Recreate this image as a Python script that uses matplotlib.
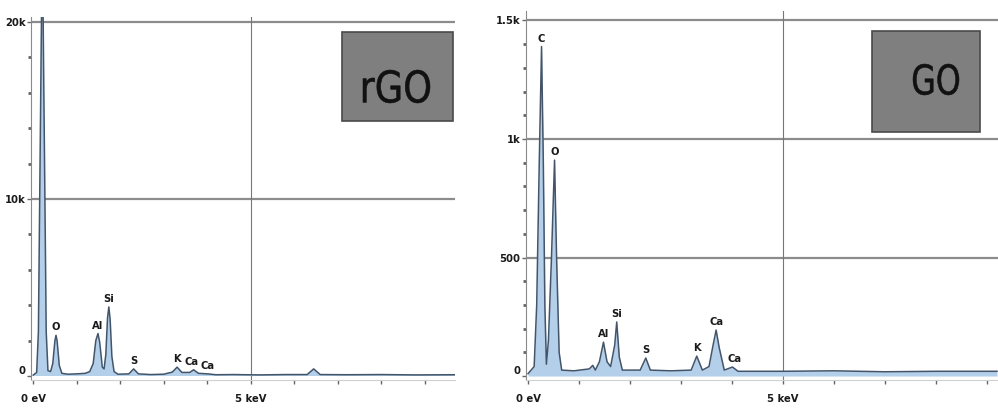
import numpy as np
import matplotlib.pyplot as plt
import matplotlib.transforms as mtransforms
from matplotlib.patches import Rectangle, PathPatch
from matplotlib.textpath import TextPath
from matplotlib.font_manager import FontProperties
from matplotlib.ticker import MultipleLocator, FixedLocator

plt.rcParams['font.family'] = ['DejaVu Sans']

# rGO spectrum, energy (keV) vs counts
rgo_kev = [0.00, 0.08, 0.12, 0.17, 0.21, 0.25, 0.30, 0.34, 0.40, 0.45, 0.50, 0.525, 0.55,
           0.60, 0.66, 0.80, 1.00, 1.20, 1.30, 1.38, 1.44, 1.49, 1.53, 1.59, 1.63, 1.67,
           1.71, 1.74, 1.77, 1.81, 1.86, 1.95, 2.20, 2.31, 2.42, 2.70, 3.00, 3.20, 3.31,
           3.42, 3.60, 3.69, 3.80, 4.01, 4.20, 4.60, 5.20, 5.80, 6.30, 6.45, 6.60, 7.20,
           8.00, 8.80, 9.70]
rgo_cts = [50, 200, 2500, 15000, 25000, 15000, 2500, 300, 250, 700, 2000, 2300, 2000,
           600, 150, 100, 120, 150, 250, 700, 2000, 2400, 1900, 500, 400, 1200,
           3300, 3900, 3200, 1100, 250, 100, 120, 400, 120, 80, 100, 220, 500,
           200, 200, 350, 150, 120, 70, 80, 60, 80, 80, 400, 80, 70,
           80, 60, 70]

# GO spectrum
go_kev = [0.00, 0.12, 0.17, 0.22, 0.265, 0.30, 0.33, 0.36, 0.40, 0.46, 0.52, 0.56, 0.61,
          0.66, 0.90, 1.20, 1.27, 1.32, 1.40, 1.48, 1.55, 1.62, 1.70, 1.74, 1.79, 1.85,
          2.20, 2.31, 2.40, 2.80, 3.20, 3.31, 3.42, 3.55, 3.63, 3.69, 3.75, 3.85, 4.01,
          4.12, 5.00, 6.00, 7.00, 8.00, 9.20]
go_cts = [10, 40, 300, 900, 1390, 900, 300, 50, 150, 500, 911, 500, 100,
          25, 22, 30, 45, 25, 60, 143, 60, 40, 130, 228, 80, 25,
          25, 76, 25, 22, 25, 84, 25, 40, 130, 194, 120, 25, 38,
          20, 20, 22, 18, 20, 20]

# element labels
rgo_el = ['O', 'Al', 'Si', 'S', 'K', 'Ca', 'Ca']
rgo_el_kev = [0.525, 1.49, 1.74, 2.31, 3.31, 3.64, 4.01]
rgo_el_cts = [2300, 2400, 3900, 400, 500, 350, 120]

go_el = ['C', 'O', 'Al', 'Si', 'S', 'K', 'Ca', 'Ca']
go_el_kev = [0.265, 0.52, 1.48, 1.74, 2.31, 3.31, 3.69, 4.05]
go_el_cts = [1390, 911, 143, 228, 76, 84, 194, 38]

rgo_yticks = [0, 10000, 20000]
rgo_ylabels = ['0', '10k', '20k']
go_yticks = [0, 500, 1000, 1500]
go_ylabels = ['0', '500', '1k', '1.5k']
xticks = [0, 5]
xlabels = ['0 eV', '5 keV']

W, H = 998, 408
fig = plt.figure(figsize=(W / 100, H / 100), dpi=100)

small = dict(fontsize=8, fontweight='bold', fontstretch='condensed', color='#1a1a1a')


def px_axes(x0, x1, ytop, ybot):
    return fig.add_axes([x0 / W, (H - ybot) / H, (x1 - x0) / W, (ybot - ytop) / H])


def squeezed_text(tag, cx, cy, w, h):
    # narrow tall lettering like the original, placed in figure pixels
    tp = TextPath((0, 0), tag, size=1, prop=FontProperties(family='DejaVu Sans'))
    bb = tp.get_extents()
    tr = (mtransforms.Affine2D()
          .translate(-bb.x0 - bb.width / 2, -bb.y0 - bb.height / 2)
          .scale(w / bb.width, h / bb.height)
          .translate(cx, H - cy))
    fig.patches.append(PathPatch(tp, transform=tr, facecolor='#111111',
                                 edgecolor='#111111', lw=0.4, zorder=6))


def style(ax, kev, cts, els, el_kev, el_cts, yt, yl, minor_y, xlim, ylim, box):
    ax.set_xlim(*xlim)
    ax.set_ylim(*ylim)
    for v in yt[1:]:
        ax.axhline(v, color='#8c8c8c', lw=1.6, zorder=1)
    ax.axvline(5, color='#777777', lw=0.8, zorder=1)
    ax.fill_between(kev, 0, cts, color='#b3cfe9', lw=0, zorder=2)
    ax.plot(kev, cts, color='#44556a', lw=1.1, zorder=3)
    for name, e, c in zip(els, el_kev, el_cts):
        ax.annotate(name, (e, c), xytext=(0, 2), textcoords='offset points',
                    ha='center', va='bottom', zorder=4, **small)
    for s in ['top', 'right']:
        ax.spines[s].set_visible(False)
    ax.spines['left'].set_color('#8a8a8a')
    ax.spines['bottom'].set_color('#d0d0d0')
    ax.set_yticks(yt)
    ax.set_yticklabels(yl, **small)
    ax.get_yticklabels()[0].set_va('bottom')
    ax.yaxis.set_minor_locator(MultipleLocator(minor_y))
    ax.set_xticks(xticks)
    ax.set_xticklabels(xlabels, **small)
    ax.xaxis.set_minor_locator(FixedLocator(np.arange(1, 10)))
    ax.tick_params(axis='y', which='major', length=3, width=1, color='#666666', pad=1)
    ax.tick_params(axis='y', which='minor', length=2, width=2, color='#666666')
    ax.tick_params(axis='x', which='major', length=3, width=1, color='#666666', pad=7)
    ax.tick_params(axis='x', which='minor', length=3, width=1, color='#666666')
    ax.add_patch(Rectangle((box[0], box[1]), box[2], box[3], transform=ax.transAxes,
                           facecolor='#7f7f7f', edgecolor='#4a4a4a', lw=1.2, zorder=5))


ax1 = px_axes(31, 455, 16.7, 380.4)
style(ax1, rgo_kev, rgo_cts, rgo_el, rgo_el_kev, rgo_el_cts, rgo_yticks, rgo_ylabels,
      2000, (-0.05, 9.7), (-250, 20300),
      ((342 - 31) / 424, (380.4 - 121) / 363.7, 111 / 424, 89 / 363.7))

ax2 = px_axes(526, 998, 11, 380.3)
style(ax2, go_kev, go_cts, go_el, go_el_kev, go_el_cts, go_yticks, go_ylabels,
      100, (-0.04, 9.22), (-18, 1540),
      ((872 - 526) / 472, (380.3 - 132) / 369.3, 108 / 472, 101 / 369.3))

squeezed_text('rGO', 396.5, 86.5, 67, 33)
squeezed_text('GO', 936, 79.5, 46, 31)

fig.savefig('out.png', dpi=100)
